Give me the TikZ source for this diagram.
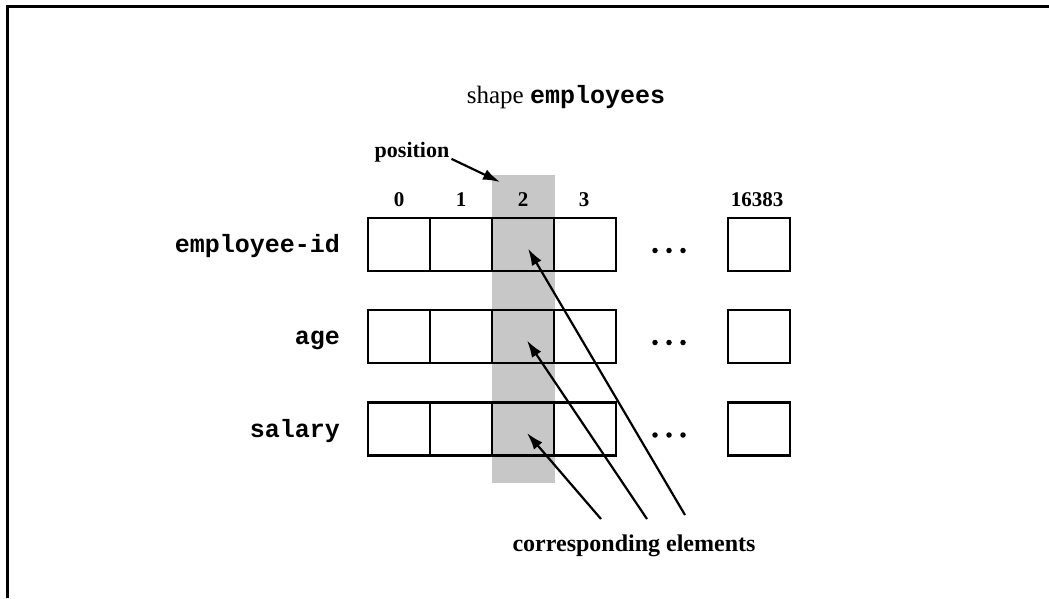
\documentclass[tikz,border=0pt]{standalone}
\usepackage{fontspec}
\setmainfont{Liberation Serif}
\setmonofont{Liberation Mono}
\usetikzlibrary{arrows.meta,calc}
\begin{document}
\begin{tikzpicture}[x=1pt,y=-1pt,
  cell/.style={draw,line width=2.2pt,minimum width=62pt,minimum height=53pt,inner sep=0pt,fill=white},
  hcell/.style={cell,fill=none},
  lbl/.style={font=\fontsize{25}{25}\selectfont\ttfamily\bfseries,anchor=base east,inner sep=0pt},
  num/.style={font=\fontsize{21}{21}\selectfont\bfseries,anchor=base,inner sep=0pt},
  arr/.style={line width=2.2pt,-{Latex[length=17pt,width=11pt]}},
  edot/.style={circle,fill=black,inner sep=0pt,minimum size=5.5pt},
  shade/.style={fill=black!22}
]
\useasboundingbox (0,0) rectangle (1049,598);
\draw[line width=3pt] (1049,6) -- (7,6) -- (7,598);
\fill[shade] (492,175) rectangle (555,483);

\foreach \r/\y in {e/244.5, a/336.5, s/429} {
  \node[cell]  (\r0) at (399,\y) {};
  \node[cell]  (\r1) at (461,\y) {};
  \node[hcell] (\r2) at (523,\y) {};
  \node[cell]  (\r3) at (585,\y) {};
  \node[cell]  (\r4) at (759,\y) {};
  \node[edot] (\r d1) at (655,\y+6) {};
  \node[edot] (\r d2) at (669,\y+6) {};
  \node[edot] (\r d3) at (683,\y+6) {};
}

\node[lbl] (eid) at (340,252.5) {employee-id};
\node[lbl] (age) at (340,344.5) {age};
\node[lbl] (sal) at (340,437) {salary};

\node[num] (n0) at (399,206) {0};
\node[num] (n1) at (461,206) {1};
\node[num] (n2) at (523,206) {2};
\node[num] (n3) at (584,206) {3};
\node[num] (n4) at (757,206) {16383};

\node[anchor=base,inner sep=0pt,font=\fontsize{25}{25}\selectfont] (title) at (566,103) {shape \texttt{\bfseries employees}};

\node[anchor=base,inner sep=0pt,font=\fontsize{22}{22}\selectfont\bfseries] (pos) at (412,157) {position};
\coordinate (posend) at (500,182);
\draw[arr] ($(pos.south east)+(2,-3)$) -- (posend);

\node[anchor=base,inner sep=0pt,font=\fontsize{24}{24}\selectfont\bfseries] (corr) at (634,551) {corresponding elements};
\coordinate (c1) at (601,519);
\coordinate (c2) at (647,519);
\coordinate (c3) at (685,515);
\draw[arr] (c1) -- ($(s2.center)+(4,4)$);
\draw[arr] (c2) -- ($(a2.center)+(4,4)$);
\draw[arr] (c3) -- ($(e2.center)+(5,4)$);
\end{tikzpicture}
\end{document}
